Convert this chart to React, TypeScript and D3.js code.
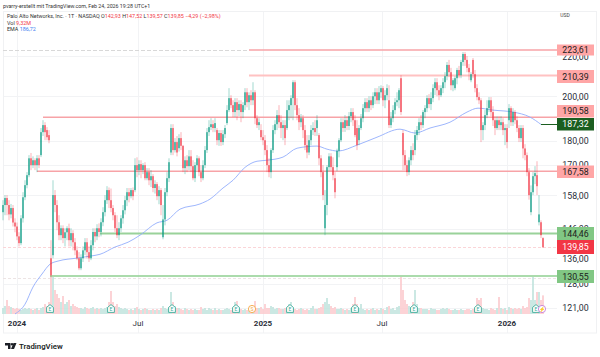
import React from "react";
import * as d3 from "d3";

const opens = [152.0,154.6,157.2,154.6,151.2,153.5,148.3,146.9,143.5,141.2,149.8,157.5,162.1,166,172.8,170,172,170,172.8,174.1,183.9,187,184.8,182.6,
136.2,137.2,158.3,154.6,148.4,143.9,146.3,142.9,144.9,146.3,142.2,144.6,141.5,138.8,136.2,133,136.2,138.8,141.5,138.2,136.2,140.5,145,143.5,146.3,145,148.4,152,156.4,160.2,156.4,153.5,150.9,146.3,143.9,146.3,149.8,152.7,156.4,159.4,157.9,160.2,
160.2,170,168,170.4,168,170,164.8,167.2,164,165.6,161,162.5,157.9,160.2,143.2,149.4,159.4,164.8,175.2,185.7,176.2,179.6,177,181.3,178,168.8,172,169.6,173.6,169.6,164.8,170,172.8,167.2,164.8,170,176.2,183.9,186.1,187.4,185.7,184.8,180.4,183.5,179.6,183,
187.9,193.8,199.4,196.1,192.9,197.5,193.8,196.6,192.9,196.1,202.2,197.5,200.8,198.4,202.2,190.1,187,184.8,181.7,180.4,176.2,170,167.2,176.2,184.8,187.4,191.5,188.3,185.7,187,185.7,193.8,196.1,199.4,207.1,196.1,191.5,188.3,190.1,184.8,178.3,175.2,180.4,184.8,185.7,185.7,
182.6,172.8,167.2,146.3,154.6,169.2,173.6,169.2,164.8,169.2,175.9,180.4,188.3,185.7,189.2,186.6,191,192.9,189.2,185.7,180.4,185.7,190.1,194.7,197.5,194.7,198.4,196.1,200.3,202.2,198.4,202.2,204.2,198.4,200.8,198.4,187,190.1,193.8,197.5,198.4,
209.1,183.5,174.1,170,167.2,172,176.2,176.2,182.6,184.8,188.3,187,192.9,194.7,199.4,196.6,199.4,204.2,207.1,203.2,200.8,204.2,207.1,210.1,215.8,212.1,205.6,204.2,209.1,213.2,210.6,217.3,221.5,218.4,214.3,208.1,218.4,211.1,204.2,199.9,
198.4,184.8,187,191.5,194.7,198.4,192.9,189.2,185.7,189.2,187,188.3,184.8,185.7,189.2,194.7,188.3,192.9,189.2,185.7,181.3,185.7,176.9,174.1,167.2,152,159.4,165.6,166,148.4,148.4,142.9];
const closes = [154.6,157.2,154.6,151.2,153.5,148.3,146.9,143.5,141.2,149.8,157.5,162.1,166,172.8,170,172,170,172.8,170,183.9,187,183.9,181.7,180.4,
130.8,158.3,154.6,148.4,143.9,146.3,142.9,144.9,146.3,142.2,144.6,141.5,138.8,136.2,133,136.2,138.8,141.5,138.2,136.2,140.5,145,143.5,146.3,145,148.4,152,156.4,160.2,156.4,153.5,150.9,146.3,143.9,146.3,149.8,152.7,156.4,159.4,157.9,160.2,157.9,
170,168,170.4,168,170,164.8,167.2,164,165.6,161,162.5,157.9,160.2,154.6,149.4,159.4,164.8,171.2,185.7,176.2,179.6,175.2,181.3,178,168.8,172,169.6,173.6,169.6,164.8,170,172.8,167.2,164.8,170,176.2,183.9,186.1,187.4,185.7,187.9,180.4,183.5,179.6,183,185.7,
193.8,199.4,196.1,192.9,197.5,193.8,196.6,192.9,196.1,202.2,197.5,200.8,198.4,202.2,190.1,187,188.3,181.7,180.4,176.2,170,167.2,176.2,184.8,187.4,191.5,188.3,185.7,187,181.3,193.8,196.1,199.4,207.1,196.1,191.5,188.3,190.1,184.8,178.3,175.2,180.4,184.8,185.7,183.9,189.2,
172.8,167.2,158.3,154.6,169.2,173.6,169.2,166,159.4,175.9,180.4,188.3,185.7,189.2,186.6,191,192.9,189.2,182.6,178.3,185.7,190.1,194.7,197.5,194.7,198.4,196.1,200.3,202.2,198.4,202.2,204.2,198.4,200.8,204.2,187,190.1,193.8,197.5,198.4,203.2,
192.9,174.1,170,167.2,172,176.2,174.1,182.6,184.8,188.3,187,192.9,194.7,199.4,196.6,199.4,204.2,207.1,203.2,200.8,204.2,207.1,210.1,215.8,212.1,205.6,208.1,209.1,213.2,210.6,217.3,221.5,218.4,214.3,212.1,211.1,211.1,204.2,199.9,198.4,
184.8,187,191.5,194.7,198.4,192.9,189.2,185.7,189.2,187,188.3,184.8,185.7,179.6,194.7,188.3,192.9,189.2,185.7,181.3,185.7,176.9,174.1,167.2,158.3,159.4,165.6,166.8,161.7,151.2,143.9,139.85];
const highs = [156.4,158.3,158.3,156.4,155,154.6,149.8,148.3,144.9,150.9,159.4,164,167.2,174.1,175,173.6,172.8,174.1,174.1,185.7,189.2,188.3,186.1,184.8,
142.2,164,160.2,156.4,150.9,147.3,147.3,146.3,147,147.9,146.3,145.6,142.9,140.1,138.2,137.5,140.1,142.9,142.9,140.1,142.2,146.3,146.3,147.7,148,149.8,153.8,158.3,161.7,161.2,160.8,154.6,152,150.9,148.4,150.9,154.6,158,161,161,161,161.2,
172.8,173.2,172,172,170.8,171.2,168.8,168.8,168,166.4,164,163.3,161.7,161,154.6,161,167.2,172.8,187.4,187.4,181.3,182.2,183,183.9,178.3,173.6,174.1,176.2,176.2,172,171.2,174.1,173.6,170,172,177.9,185.7,189.2,190.1,189.2,190.1,185.7,184.8,184.8,184.8,187,
196.1,204.2,200.8,198.4,199.4,199.4,198.4,198.4,197.5,204.2,204.2,202.2,203.2,207.1,203.2,191.5,190.1,187.4,184.8,182.6,178.3,172.8,177,187,189.2,193.8,196.1,191.5,189.2,189.2,198.4,198.4,200.8,208.1,208.1,199.4,194.7,192,191.5,187,182.6,182.6,187,188.3,189.2,191.5,
183.5,174.1,170,160.2,170,174.9,174.9,173.2,167.2,176.8,181.3,190.1,190.1,191.5,191,192.9,194.7,194.7,191.5,189.2,187,192,196.6,199.4,199.4,200.3,200.3,202.2,204.2,204.2,205.2,205.6,205.2,203.2,206.1,205.6,192.9,196.1,199.4,202.2,204.2,
210.6,184.8,176.2,172,173.2,177.9,179.1,184.8,186.6,190.1,191.5,193.8,196.1,200.8,201.3,202.2,206.1,209.1,209.1,205.6,205.6,209.1,212.1,217.3,218.4,214.3,209.1,210.1,214.3,215.3,218.4,222.5,222.5,220.4,216.3,212.1,219.4,213.2,206.1,202.2,
199.4,188.3,193.8,198.4,199.9,199.9,195.6,191,191,191,191,190.1,187.4,187.4,196.6,195.6,194.7,193.8,191,187,187,187,178.7,175.2,168.8,162,167.2,169.6,171.6,158.3,149.1,143.2];
const lows = [149.1,150.9,150.9,149.1,149.8,146.9,144.9,142.2,140.1,140.5,148.3,156.4,160.9,165.2,168,168.8,168,167.2,168.8,173.3,182.2,180.4,180.4,179.1,
130.2,136.2,152,145.6,142.2,142.2,141.2,140.1,142.2,140.1,140.1,138.8,137.2,135.6,132.4,132.4,135,137.2,136.2,135,135.6,138.8,141.5,142.2,143.2,143.5,147,150.5,155,153.5,152,149.1,145,142.9,142.2,145,147.9,151.2,154.2,155.6,157.1,156.4,
159.4,165.2,166,164.8,166.4,164,164,162.1,161.4,159.4,158.9,156.4,154.9,150.9,142.5,147.3,157.9,163.3,174.1,174.1,175.2,173.6,175.6,176.2,167.2,166.4,167.2,168,167.2,164,163.3,168,165.6,163.3,164,168.8,175,182.2,184.8,183.9,183.9,178.3,178,178,178.3,181.3,
187,192.9,194.7,190.6,190.6,189.2,191,188.3,190.1,193.8,195.1,193.8,196.1,196.1,187.4,185.7,184.8,180.4,178.3,174.1,167.2,165.2,164.8,175,183,184.8,185.7,181.3,180.4,178.3,184.8,189.2,190.1,189.2,193.8,189.2,184.8,186.1,181.3,176.2,172.8,174.1,178.3,182.6,182.2,182.2,
170,165.2,156.4,143.9,150.9,167.6,167.6,164,157.1,167.6,173.2,179.6,184,184,184.8,184.8,188.3,186.6,181.7,176.2,178.3,184.8,188.3,192.9,192.9,192.9,193.8,194.7,196.6,196.6,196.6,199.4,195.6,194.7,198.4,185.7,185.7,188.3,191.9,195.6,194.7,
191.5,168,168,165.6,166,170,172,174.1,180.4,182.6,184.8,185.7,190.1,192.9,194.7,193.8,197.5,200.8,200.3,198.4,199.9,201.8,204.2,208.1,209.6,203.2,202.7,203.2,206.1,209.1,209.1,215.3,215.3,212.1,208.1,207.1,209.1,202.2,198.4,196.6,
179.6,180.4,184.8,190.1,192.9,191,186.6,182.6,184.8,184.8,184.8,182.6,178.3,177,185.7,186.6,186.6,187.4,183.9,179.6,179.6,172.8,172,165.6,156.6,150.9,158.3,162.5,158.3,147.3,142.9,139.57];
const volumes = [3,4,7,4,3.5,3,2.5,3,2.5,2,2.5,3,2.5,3,2.5,2,2.5,3,2,3,3.5,5,4,6,
18.5,18.5,12,10,8,6,9,5,6,7,4,5,4,3.5,3,3,2.5,3.5,3,2.5,3,3.5,2.5,3,2.5,3,2.5,3,3.5,6,11.5,6,4,5,3.5,3,2.5,3,2.5,2,2.5,2,
3,3.5,2.5,2,2.5,3,2.5,2,2,2.5,2,2.5,2,3,4,3,2.5,3.5,11,6,4,3,3,2.5,2,3,2.5,2,2.5,2,2.5,2,2,3.5,2.5,3,2,3,2.5,2,3,2,2.5,2,2,2.5,
3,2.5,2,3,6,6.5,3,2.5,2,2.5,2,2,3,2.5,6.5,3,3,3.5,2.5,5,3,3,4,3.5,2.5,3,3,2.5,2.5,3,2.5,5,6,3,2.5,2,2.5,3,2.5,2,2.5,2,3,4,2.5,2.5,
3,3.5,5,6,8,5,4,3,3.5,2.5,2.5,3,2.5,2,2.5,2,3,5,8.5,5,3,5,2.5,2,2.5,2,2.5,3,2,2.5,2,3,2.5,2,3.5,4,2.5,3,2,3.5,4,
18.5,12,7,5,4,3.5,6,12,5,3,3,2.5,2.5,2.5,2,3,2.5,2.5,2,2,2.5,3,2.5,3,2.5,2,2,2.5,2,2,2.5,2,2,2.5,2.5,2,2.5,3,8,7,
8,3,2.5,2.5,2,3,2.5,2,3,8.5,3,2.5,3,2,3.5,3,2.5,3,2.5,3,2.5,4,3,3.5,8,7,18.5,7,11,11,7,9.32];
const emaBars = [6,11,15,19.5,23.5,27.5,37.5,43.5,48.5,56,62.5,68.5,77,82,88.5,98.5,103.5,110,115,121,127,132,140,147,157,162,167.5,177,187,198.5,206,213.5,223.5,232,237.5,245,255,263.5,269];
const emaValues = [119.3,122.1,127.2,131.2,134.3,135.3,136.3,136.9,137.5,139.9,141.5,143.9,148.2,149.1,153.1,155,156.8,161,164,169.1,171.6,172,173.3,177,177.9,176.6,175.8,178.3,181.7,185.2,183.5,185.7,188.3,192.9,194.7,193.8,192.9,190.6,187.3];
const axisTicks = [220, 200, 180, 170, 158, 146, 136, 128, 121];
const timeTicks = [{ label: "2024", bar: 7, bold: true }, { label: "Jul", bar: 67.5, bold: false }, { label: "2025", bar: 130, bold: true }, { label: "Jul", bar: 189.5, bold: false }, { label: "2026", bar: 252, bold: true }];
const levelPrices = [223.61, 210.39, 190.58, 167.58, 144.46, 130.55];
const levelStartBars = [123, 123, 20, 17, 48.5, 23.5];
const levelColors = ["#f7a3a7", "#ffc2c2", "#f7a3a7", "#f7a3a7", "#9ad29a", "#8fcf90"];
const levelWidths = [1.5, 2, 1.5, 1.5, 2, 1.5];
const earningsBars = [23.5, 54, 84.5, 116.5, 143.5, 176, 205.5, 237.5, 266.5];
const dividendBars = [124.5];
const lastPrice = 139.85;
const emaLast = 187.32;

const GREEN = "#089981";
const RED = "#f23645";
const FONT = "Roboto, 'Open Sans', sans-serif";
const comma = (v: number) => v.toFixed(2).replace(".", ",");

const x = d3.scaleLinear().domain([0, 270]).range([3, 543]);
const y = d3.scaleLog().domain([223.61, 121]).range([50, 308]);
const vy = d3.scaleLinear().domain([0, 25]).range([314, 264]);
const emaLine = d3.line<number>().x((_, i) => x(emaBars[i])).y((d) => y(d)).curve(d3.curveMonotoneX);
const RIGHT = 557;
const snap = (v: number) => Math.floor(v) + 0.5;

function Badge({ cx, color, glyph, round }: { cx: number; color: string; glyph: string; round?: boolean }) {
  const cy = 309;
  return (
    <g>
      {round ? (
        <circle cx={cx} cy={cy} r={3.6} fill="#fff" stroke={color} strokeWidth={0.9} />
      ) : (
        <path d={`M${cx - 3.4} ${cy - 1.6} L${cx} ${cy - 4.4} L${cx + 3.4} ${cy - 1.6} V${cy + 3.4} H${cx - 3.4} Z`} fill="#fff" stroke={color} strokeWidth={0.9} />
      )}
      <text x={cx} y={cy + 2} fontSize={5} textAnchor="middle" fill={color} fontFamily={FONT}>{glyph}</text>
    </g>
  );
}

function PriceBox({ top, h, fill, color, text }: { top: number; h: number; fill: string; color: string; text: string }) {
  return (
    <g>
      <rect x={RIGHT} y={top} width={37} height={h} fill={fill} />
      <text x={575.5} y={top + h / 2 + 3.1} fontSize={8.8} textAnchor="middle" fill={color} fontFamily={FONT}>{text}</text>
    </g>
  );
}

export default function App() {
  return (
    <svg width={600} height={357} style={{ position: "absolute", left: 0, top: 0, background: "#fff" }}>
      <text x={3} y={8} fontSize={5.3} fill="#333" fontFamily={FONT}>pvarry-erstellt mit TradingView.com, Feb 24, 2026 19:28 UTC+1</text>
      <g stroke="#f2f3f5" strokeWidth={1}>
        {axisTicks.map((t) => <line key={t} x1={3} x2={RIGHT} y1={snap(y(t))} y2={snap(y(t))} />)}
        {timeTicks.map((t, i) => <line key={i} x1={snap(x(t.bar))} x2={snap(x(t.bar))} y1={11} y2={333} />)}
      </g>
      <rect x={3.5} y={11.5} width={593} height={321.5} fill="none" stroke="#f0f1f3" />

      <line x1={3} x2={249} y1={50.5} y2={50.5} stroke="#d8d8d8" strokeDasharray="4 2" strokeWidth={1} />
      <line x1={3} x2={RIGHT} y1={snap(y(lastPrice))} y2={snap(y(lastPrice))} stroke="#fbd5d8" strokeDasharray="3 2" strokeWidth={1} />
      <line x1={3} x2={RIGHT} y1={278.5} y2={278.5} stroke="#ece4e4" strokeDasharray="3 2" strokeWidth={1} />

      {volumes.map((v, i) => (
        <rect key={i} x={x(i) - 0.8} y={vy(v)} width={1.6} height={314 - vy(v)} fill={closes[i] >= opens[i] ? "#bfe3dd" : "#fcc9cd"} />
      ))}

      {levelPrices.map((p, i) => (
        <line key={p} x1={x(levelStartBars[i])} x2={RIGHT} y1={y(p)} y2={y(p)} stroke={levelColors[i]} strokeWidth={levelWidths[i]} />
      ))}

      <path d={emaLine(emaValues) ?? ""} fill="none" stroke="#93aefc" strokeWidth={0.9} />
      <line x1={x(269)} x2={RIGHT} y1={124.5} y2={124.5} stroke="#1b5e20" strokeWidth={1} />

      {opens.map((o, i) => {
        const c = closes[i];
        const col = c >= o ? GREEN : RED;
        const top = y(Math.max(o, c));
        const bot = y(Math.min(o, c));
        return (
          <g key={i}>
            <line x1={x(i)} x2={x(i)} y1={y(highs[i])} y2={y(lows[i])} stroke={col} strokeOpacity={0.38} strokeWidth={1} />
            <rect x={x(i) - 0.6} y={top} width={1.2} height={Math.max(bot - top, 0.8)} fill={col} />
          </g>
        );
      })}

      {earningsBars.map((b) => <Badge key={b} cx={x(b)} color="#3bab98" glyph="E" />)}
      {dividendBars.map((b) => <Badge key={b} cx={x(b)} color="#f5a642" glyph="S" round />)}
      <Badge cx={542} color="#c77dd8" glyph="⚡" round />

      <rect x={RIGHT} y={12} width={39} height={320} fill="#fff" />
      <text x={565} y={17} fontSize={5} fill="#444" textAnchor="middle" fontFamily={FONT}>USD</text>
      {axisTicks.map((t) => (
        <text key={t} x={575.5} y={y(t) + 3.1} fontSize={8.8} textAnchor="middle" fill="#2a2e39" fontFamily={FONT}>{comma(t)}</text>
      ))}
      <PriceBox top={44.5} h={11} fill="#ffa6a6" color="#1c1c1c" text={comma(223.61)} />
      <PriceBox top={70} h={13} fill="#ffa6a6" color="#1c1c1c" text={comma(210.39)} />
      <PriceBox top={105} h={12.5} fill="#ffa6a6" color="#1c1c1c" text={comma(190.58)} />
      <PriceBox top={118} h={12.5} fill="#1b5e20" color="#fff" text={comma(emaLast)} />
      <PriceBox top={165.5} h={12.5} fill="#ffa6a6" color="#1c1c1c" text={comma(167.58)} />
      <PriceBox top={227} h={13} fill="#81c784" color="#1c1c1c" text={comma(144.46)} />
      <PriceBox top={240} h={14} fill={RED} color="#fff" text={comma(lastPrice)} />
      <PriceBox top={270} h={13} fill="#81c784" color="#1c1c1c" text={comma(130.55)} />

      <text x={7} y={18} fontSize={5.4} fill="#333" fontFamily={FONT}>
        Palo Alto Networks, Inc. · 1T · NASDAQ  <tspan>O</tspan><tspan fill={RED}>142,93 </tspan><tspan>H</tspan><tspan fill={RED}>147,52 </tspan><tspan>L</tspan><tspan fill={RED}>139,57 </tspan><tspan>C</tspan><tspan fill={RED}>139,85 −4,29 (−2,98%)</tspan>
      </text>
      <text x={7} y={24.7} fontSize={5.4} fill="#333" fontFamily={FONT}>Vol <tspan fill={RED}>9,32M</tspan></text>
      <text x={7} y={31} fontSize={5.4} fill="#333" fontFamily={FONT}>EMA <tspan fill="#3f7ef0">186,72</tspan></text>

      {timeTicks.map((t, i) => (
        <text key={i} x={x(t.bar)} y={326} fontSize={8} textAnchor="middle" fontWeight={t.bold ? 700 : 400} fill="#2a2e39" fontFamily={FONT}>{t.label}</text>
      ))}

      <g fill="#1c1f26">
        <path d="M5 343 H10.5 V349 H8 V345.4 H5 Z" />
        <circle cx={12} cy={344.2} r={1.2} />
        <path d="M11 349 L13.5 343 H16.5 L14 349 Z" />
      </g>
      <text x={19} y={349} fontSize={7.8} fontWeight={600} fill="#1c1f26" fontFamily={FONT}>TradingView</text>
    </svg>
  );
}
